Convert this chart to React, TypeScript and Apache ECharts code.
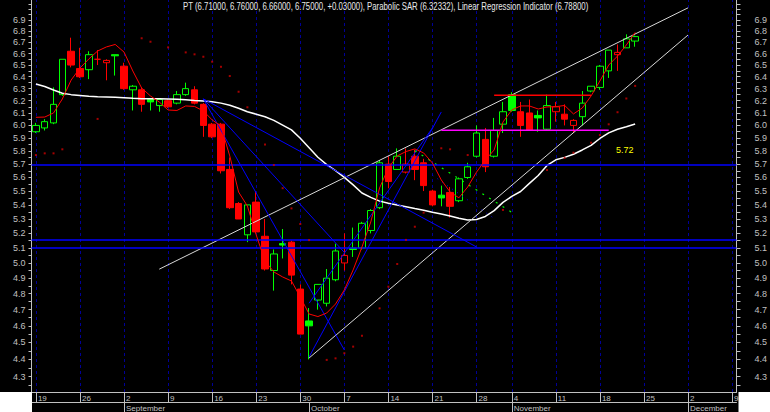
import React, { useEffect, useRef } from 'react';
import * as echarts from 'echarts';

// Trading days (Nov 1 closed)
const dates = [
  '2002-08-19', '2002-08-20', '2002-08-21', '2002-08-22', '2002-08-23',
  '2002-08-26', '2002-08-27', '2002-08-28', '2002-08-29', '2002-08-30',
  '2002-09-02', '2002-09-03', '2002-09-04', '2002-09-05', '2002-09-06',
  '2002-09-09', '2002-09-10', '2002-09-11', '2002-09-12', '2002-09-13',
  '2002-09-16', '2002-09-17', '2002-09-18', '2002-09-19', '2002-09-20',
  '2002-09-23', '2002-09-24', '2002-09-25', '2002-09-26', '2002-09-27',
  '2002-09-30', '2002-10-01', '2002-10-02', '2002-10-03', '2002-10-04',
  '2002-10-07', '2002-10-08', '2002-10-09', '2002-10-10', '2002-10-11',
  '2002-10-14', '2002-10-15', '2002-10-16', '2002-10-17', '2002-10-18',
  '2002-10-21', '2002-10-22', '2002-10-23', '2002-10-24', '2002-10-25',
  '2002-10-28', '2002-10-29', '2002-10-30', '2002-10-31',
  '2002-11-04', '2002-11-05', '2002-11-06', '2002-11-07', '2002-11-08',
  '2002-11-11', '2002-11-12', '2002-11-13', '2002-11-14', '2002-11-15',
  '2002-11-18', '2002-11-19', '2002-11-20', '2002-11-21', '2002-11-22',
  '2002-11-25', '2002-11-26', '2002-11-27', '2002-11-28', '2002-11-29',
  '2002-12-02', '2002-12-03', '2002-12-04', '2002-12-05', '2002-12-06',
  '2002-12-09',
];

const monthNames = ['January', 'February', 'March', 'April', 'May', 'June', 'July',
  'August', 'September', 'October', 'November', 'December'];

// [open, close, low, high]
const ohlc = [
  [5.95, 6.00, 5.94, 6.02], [5.98, 6.03, 5.96, 6.05], [6.02, 6.17, 6.01, 6.31], [6.25, 6.55, 6.24, 6.55],
  [6.62, 6.50, 6.48, 6.74], [6.47, 6.40, 6.39, 6.65], [6.46, 6.59, 6.38, 6.62], [6.55, 6.55, 6.50, 6.63],
  [6.52, 6.54, 6.37, 6.55], [6.59, 6.58, 6.41, 6.59], [6.49, 6.30, 6.29, 6.52], [6.29, 6.32, 6.12, 6.33],
  [6.29, 6.17, 6.11, 6.31], [6.21, 6.19, 6.12, 6.21], [6.16, 6.21, 6.11, 6.22], [6.20, 6.15, 6.14, 6.21],
  [6.18, 6.25, 6.17, 6.28], [6.25, 6.30, 6.24, 6.35], [6.29, 6.18, 6.17, 6.32], [6.17, 6.00, 5.91, 6.18],
  [6.01, 5.91, 5.90, 6.02], [6.01, 5.65, 5.63, 6.02], [5.66, 5.38, 5.37, 5.75], [5.41, 5.30, 5.30, 5.42],
  [5.19, 5.40, 5.14, 5.40], [5.42, 5.21, 5.20, 5.50], [5.18, 4.96, 4.95, 5.30], [4.95, 5.06, 4.82, 5.09],
  [5.13, 5.12, 5.03, 5.23], [5.14, 4.92, 4.86, 5.15], [4.83, 4.55, 4.55, 4.86], [4.63, 4.60, 4.40, 4.71],
  [4.76, 4.86, 4.70, 4.86], [4.74, 4.90, 4.72, 4.96], [4.89, 5.08, 4.88, 5.13], [5.00, 5.05, 4.95, 5.20],
  [5.10, 5.09, 5.04, 5.24], [5.10, 5.27, 5.09, 5.28], [5.22, 5.36, 5.20, 5.37], [5.38, 5.71, 5.37, 5.73],
  [5.70, 5.57, 5.52, 5.76], [5.66, 5.76, 5.66, 5.82], [5.64, 5.70, 5.63, 5.82], [5.76, 5.66, 5.58, 5.81],
  [5.71, 5.54, 5.50, 5.74], [5.50, 5.40, 5.39, 5.51], [5.47, 5.45, 5.39, 5.54], [5.49, 5.39, 5.31, 5.53],
  [5.43, 5.59, 5.42, 5.60], [5.60, 5.68, 5.59, 5.71], [5.76, 5.94, 5.75, 6.00], [5.89, 5.68, 5.64, 5.98],
  [5.76, 5.96, 5.75, 6.06], [6.01, 6.11, 5.94, 6.19], [6.25, 6.12, 6.11, 6.27], [6.11, 6.00, 5.91, 6.19],
  [6.10, 5.96, 5.96, 6.21], [6.08, 6.06, 5.95, 6.12], [5.97, 6.16, 5.96, 6.25], [6.11, 6.15, 6.03, 6.19],
  [6.09, 6.05, 6.00, 6.17], [6.00, 6.04, 5.94, 6.05], [6.07, 6.18, 6.00, 6.28], [6.28, 6.32, 6.27, 6.32],
  [6.31, 6.49, 6.29, 6.50], [6.45, 6.63, 6.39, 6.63], [6.59, 6.61, 6.45, 6.68], [6.65, 6.73, 6.65, 6.77],
  [6.71, 6.75, 6.66, 6.76],
];

// Linear Regression Indicator
const linReg = [
  6.065, 6.067, 6.100, 6.214, 6.372, 6.474, 6.552, 6.622, 6.658, 6.680,
  6.613, 6.449, 6.305, 6.239, 6.189, 6.124, 6.120, 6.157, 6.153, 6.116,
  6.044, 5.995, 5.762, 5.493, 5.392, 5.189, 5.013, 4.941, 4.908, 4.882,
  4.779, 4.673, 4.657, 4.679, 4.735, 4.824, 4.954, 5.107, 5.279, 5.523,
  5.671, 5.762, 5.796, 5.816, 5.785, 5.708, 5.582, 5.493, 5.451, 5.530,
  5.640, 5.731, 5.808, 6.027, 6.124, 6.157, 6.157, 6.132, 6.149, 6.151,
  6.161, 6.092, 6.140, 6.239, 6.364, 6.500, 6.578, 6.675, 6.788,
];

// long moving average (white)
const movAvg = [
  6.339, 6.318, 6.288, 6.262, 6.250, 6.243, 6.236, 6.232, 6.231, 6.228,
  6.224, 6.220, 6.217, 6.216, 6.215, 6.214, 6.212, 6.207, 6.202, 6.198,
  6.192, 6.180, 6.163, 6.138, 6.110, 6.090, 6.069, 6.040, 6.003, 5.965,
  5.899, 5.825, 5.752, 5.696, 5.651, 5.601, 5.545, 5.486, 5.454, 5.427,
  5.412, 5.399, 5.387, 5.374, 5.362, 5.348, 5.335, 5.321, 5.305, 5.293,
  5.297, 5.318, 5.359, 5.418, 5.461, 5.497, 5.556, 5.615, 5.690, 5.733,
  5.751, 5.775, 5.808, 5.844, 5.897, 5.941, 5.970, 5.990, 6.011,
];

// Parabolic SAR dots [day index, value]
const sarDots = [
  [0, 5.769], [1, 5.782], [2, 5.782], [3, 5.813], [7, 6.052],
  [12, 6.735], [13, 6.704], [15, 6.654], [17, 6.610], [18, 6.593], [19, 6.572],
  [20, 6.529], [21, 6.485], [22, 6.406], [23, 6.274], [24, 6.146],
  [26, 5.850], [27, 5.693], [28, 5.521], [29, 5.375], [30, 5.265], [31, 5.154],
  [33, 4.397], [34, 4.406], [35, 4.436], [36, 4.475], [37, 4.540], [39, 4.708],
  [40, 4.845], [41, 4.993], [42, 5.155], [43, 5.246], [44, 5.345],
  [46, 5.821], [47, 5.813], [49, 5.769], [53, 5.364],
  [58, 5.656], [60, 5.748], [61, 5.787], [63, 5.864], [64, 5.924],
  [65, 6.009], [66, 6.106], [67, 6.218], [68, 6.323],
];

// drawn studies: [day index, value] end points
const upperChannel = [[14, 4.959], [74, 7.012]];
const lowerChannel = [[31, 4.408], [74, 6.764]];
const blueFan = [
  [[19, 6.215], [35, 4.455]],
  [[19, 6.215], [35, 5.070]],
  [[19, 6.215], [50, 5.107]],
  [[31, 4.414], [46, 6.108]],
  [[31, 4.740], [45, 5.980]],
];
const greenDotted = [[43, 5.802], [54, 5.347]];
const blueDotted = [[45, 5.617], [52, 5.304]];
const resistanceLine = [[52, 6.244], [63, 6.244]];
const supportLine = [[46, 5.961], [65, 5.961]];
const horizontalLevels = [5.72, 5.16, 5.087];

const yLabelValues = [4.3, 4.4, 4.5, 4.6, 4.7, 4.8, 4.9, 5.0, 5.1, 5.2, 5.3, 5.4, 5.5, 5.6, 5.7, 5.8, 5.9, 6.0, 6.1, 6.2, 6.3, 6.4, 6.5, 6.6, 6.7, 6.8, 6.9];
const yTickValues = [4.25, 4.3, 4.35, 4.4, 4.45, 4.5, 4.55, 4.6, 4.65, 4.7, 4.75, 4.8, 4.85, 4.9, 4.95, 5.0, 5.05, 5.1, 5.15, 5.2, 5.25, 5.3, 5.35, 5.4, 5.45, 5.5, 5.55, 5.6, 5.65, 5.7, 5.75, 5.8, 5.85, 5.9, 5.95, 6.0, 6.05, 6.1, 6.15, 6.2, 6.25, 6.3, 6.35, 6.4, 6.45, 6.5, 6.55, 6.6, 6.65, 6.7, 6.75, 6.8, 6.85, 6.9, 6.95, 7.0, 7.05];
const yMin = 4.2138;
const yMax = 7.0854;

const titleText = 'PT (6.71000, 6.76000, 6.66000, 6.75000, +0.03000), Parabolic SAR (6.32332), Linear Regression Indicator (6.78800)';

const GREEN = '#00ff00';
const RED = '#ff0000';
const BLUE = '#0000ff';
const AXIS_GRAY = '#c0c0c0';

const L = (v: number) => Math.log(v);

function dayOfWeek(s: string) {
  return new Date(s + 'T00:00:00Z').getUTCDay();
}

export default function App() {
  const ref = useRef<HTMLDivElement>(null);
  useEffect(() => {
    document.body.style.margin = '0';
    if (!ref.current) return;
    const chart = echarts.init(ref.current, undefined, { renderer: 'svg' });

    const isMonday = dates.map((d) => dayOfWeek(d) === 1);
    const isMonthStart = dates.map((d, i) => i > 0 && d.slice(5, 7) !== dates[i - 1].slice(5, 7));

    const candleData = ohlc.map((r, i) => {
      const [o, c, l, h] = r;
      const prev = i > 0 ? ohlc[i - 1][1] : o;
      const col = c >= prev ? GREEN : RED;
      const fill = c < o ? col : '#000000';
      return {
        value: [L(o), L(c), L(l), L(h)],
        itemStyle: { color: fill, color0: fill, borderColor: col, borderColor0: col, borderColorDoji: col, borderWidth: 1 },
      };
    });

    const seg = (pts: number[][]) => pts.map(([i, v]) => [dates[i], L(v)]);
    const lineSeries = (name: string, pts: number[][], color: string, width: number, type: any = 'solid', z = 4) => ({
      name, type: 'line', data: seg(pts), symbol: 'none', silent: true, z,
      lineStyle: { color, width, type }, itemStyle: { color },
    });

    const yAxisBase = (position: 'left' | 'right') => ({
      type: 'value', position, min: L(yMin), max: L(yMax),
      axisLine: { show: true, lineStyle: { color: AXIS_GRAY, width: 1 } },
      axisTick: { show: true, length: position === 'left' ? 3 : 4, customValues: yTickValues.map(L), lineStyle: { color: AXIS_GRAY } },
      axisLabel: {
        customValues: yLabelValues.map(L),
        formatter: (v: number) => Math.exp(v).toFixed(1),
        color: AXIS_GRAY, fontSize: 9, fontFamily: 'Liberation Sans, Arial, sans-serif',
        margin: position === 'left' ? 6 : 18,
        align: position === 'left' ? 'right' : 'left',
      },
      splitLine: { show: false },
    });

    const option: any = {
      animation: false,
      backgroundColor: '#000000',
      grid: { left: 31.5, right: 32, top: 0, bottom: 20, containLabel: false },
      xAxis: [
        {
          type: 'category', data: dates, boundaryGap: true, position: 'bottom',
          axisLine: { show: true, lineStyle: { color: AXIS_GRAY } },
          axisTick: { show: true, alignWithLabel: true, interval: (i: number) => isMonday[i], length: 10, lineStyle: { color: AXIS_GRAY } },
          axisLabel: {
            interval: (i: number) => isMonday[i],
            formatter: (v: string) => String(parseInt(v.slice(8), 10)),
            align: 'left', verticalAlign: 'top', margin: 2, padding: [0, 0, 0, 2],
            color: AXIS_GRAY, fontSize: 8, fontFamily: 'Liberation Sans, Arial, sans-serif',
          },
          splitLine: { show: false },
        },
        {
          type: 'category', data: dates, boundaryGap: true, position: 'bottom', offset: 10,
          axisLine: { show: true, lineStyle: { color: AXIS_GRAY } },
          axisTick: { show: true, alignWithLabel: true, interval: (i: number) => isMonthStart[i], length: 10, lineStyle: { color: AXIS_GRAY } },
          axisLabel: {
            interval: (i: number) => isMonthStart[i],
            formatter: (v: string) => monthNames[parseInt(v.slice(5, 7), 10) - 1],
            align: 'left', verticalAlign: 'top', margin: 2, padding: [0, 0, 0, 2],
            color: AXIS_GRAY, fontSize: 8, fontFamily: 'Liberation Sans, Arial, sans-serif',
          },
          splitLine: { show: false },
        },
      ],
      yAxis: [yAxisBase('left'), yAxisBase('right')],
      graphic: [
        { type: 'rect', shape: { x: 0, y: 392, width: 32, height: 20 }, style: { fill: '#ffffff' }, z: 100 },
        { type: 'rect', shape: { x: 738.5, y: 392, width: 32, height: 20 }, style: { fill: '#ffffff' }, z: 100 },
        {
          type: 'text', x: 183, y: 2, scaleX: 0.78, z: 100,
          style: { text: titleText, fill: '#e8e8e8', font: '10px "Liberation Sans", Arial, sans-serif', verticalAlign: 'top' },
        },
        {
          type: 'text', x: 616, y: 145, z: 100,
          style: { text: '5.72', fill: '#ffff00', font: '9px "Liberation Sans", Arial, sans-serif', verticalAlign: 'top' },
        },
      ],
      series: [
        {
          name: 'grid', type: 'line', data: [], silent: true,
          markLine: {
            z: 1, silent: true, symbol: 'none', label: { show: false },
            lineStyle: { color: '#000096', width: 1, type: [3, 3] },
            data: dates.filter((d, i) => isMonday[i]).map((d) => ({ xAxis: d })),
          },
        },
        {
          name: 'PT', type: 'candlestick', data: candleData, barWidth: 7, z: 2,
        },
        {
          name: 'Moving Average', type: 'line', data: movAvg.map(L), symbol: 'none', silent: true, z: 3,
          lineStyle: { color: '#ffffff', width: 1.5 },
          markLine: {
            z: 5, silent: true, symbol: 'none', label: { show: false },
            lineStyle: { color: BLUE, width: 1.5, type: 'solid' },
            data: horizontalLevels.map((v) => ({ yAxis: L(v) })),
          },
        },
        lineSeries('Upper channel', upperChannel, '#d8d8d8', 1),
        lineSeries('Lower channel', lowerChannel, '#d8d8d8', 1),
        ...blueFan.map((pts, k) => lineSeries('Fan ' + k, pts, BLUE, 1)),
        lineSeries('Green dotted', greenDotted, GREEN, 1.2, [2, 6]),
        lineSeries('Blue dotted', blueDotted, BLUE, 1, [1, 5]),
        lineSeries('Resistance', resistanceLine, RED, 1.5),
        lineSeries('Support', supportLine, '#ff00ff', 1.5),
        {
          name: 'Linear Regression Indicator', type: 'line', data: linReg.map(L), symbol: 'none', silent: true, z: 6,
          lineStyle: { color: RED, width: 1 },
        },
        {
          name: 'Parabolic SAR', type: 'scatter', data: sarDots.map(([i, v]) => [dates[i], L(v)]),
          symbol: 'rect', symbolSize: 2, itemStyle: { color: '#d00000' }, silent: true, z: 6,
        },
      ],
    };
    chart.setOption(option);
    return () => chart.dispose();
  }, []);
  return <div ref={ref} style={{ width: 770, height: 412 }} />;
}
